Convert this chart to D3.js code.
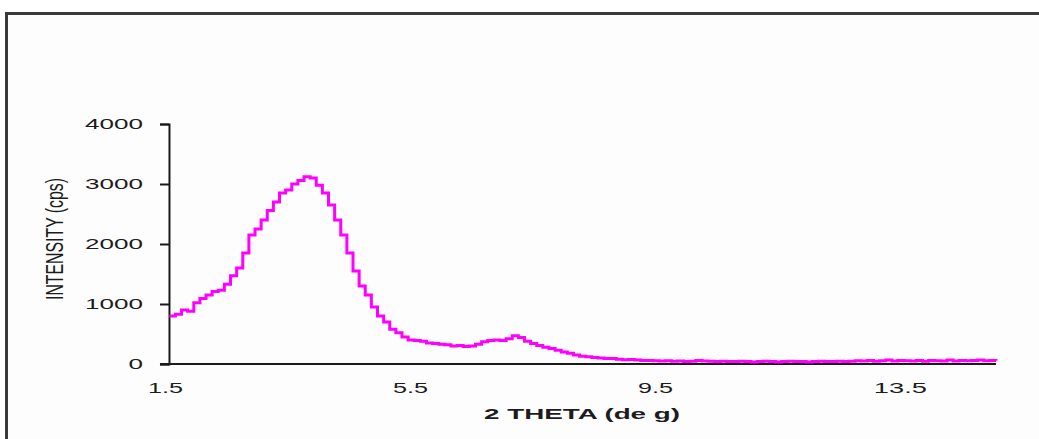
<!DOCTYPE html>
<html>
<head>
<meta charset="utf-8">
<script src="https://cdn.jsdelivr.net/npm/d3@7"></script>
<style>
  body { margin: 0; background: #fff; }
  svg { display: block; }
  text { font-family: Arial, "Liberation Sans", sans-serif; fill: #1c1c1c; }
</style>
</head>
<body>
<div id="chart"></div>
<script>
// 2 theta values start at 1.57 and step by 0.1 deg
const thetaStart = 1.57;
const thetaStep = 0.1;
const intensity = [
  800, 830, 900, 880, 1020, 1090, 1150, 1210, 1230, 1330,
  1470, 1600, 1850, 2150, 2250, 2400, 2560, 2700, 2850, 2900,
  3000, 3060, 3120, 3100, 2980, 2850, 2650, 2400, 2150, 1850,
  1550, 1300, 1150, 950, 800, 700, 580, 520, 450, 400,
  390, 380, 350, 340, 330, 320, 300, 310, 290, 300,
  330, 370, 390, 400, 390, 420, 470, 440, 380, 340,
  310, 280, 260, 230, 200, 180, 150, 130, 120, 110,
  100, 90, 90, 80, 70, 75, 65, 60, 60, 55,
  50, 55, 45, 50, 40, 45, 60, 50, 45, 40,
  45, 40, 40, 45, 40, 35, 40, 45, 40, 35,
  40, 45, 40, 40, 35, 40, 45, 40, 40, 45,
  40, 45, 55, 50, 60, 45, 55, 65, 50, 60,
  55, 50, 60, 45, 60, 55, 50, 65, 50, 60,
  55, 60, 65, 55, 60, 55
];
const xTicks = [1.5, 5.5, 9.5, 13.5];
const yTicks = [0, 1000, 2000, 3000, 4000];
const xTitle = '2  THETA  (de g)';
const yTitle = 'INTENSITY (cps)';

const data = intensity.map((v, i) => ({ t: thetaStart + i * thetaStep, v }));
const thetaEnd = 15.07;

const width = 1039, height = 439;
const svg = d3.select('#chart').append('svg')
  .attr('width', width).attr('height', height);

// outer frame (cut by the picture edge on the right and bottom)
svg.append('rect')
  .attr('x', 6.5).attr('y', 13.5)
  .attr('width', 1100).attr('height', 500)
  .attr('fill', '#fdfdfd')
  .attr('stroke', '#3a3a3a')
  .attr('stroke-width', 3);

const x = d3.scaleLinear().domain([1.5, thetaEnd]).range([165, 996]);
const y = d3.scaleLinear().domain([0, 4000]).range([364, 124]);

// y axis
const yAxis = svg.append('g')
  .attr('transform', 'translate(' + x(thetaStart - 0.005) + ',0)')
  .call(d3.axisLeft(y).tickValues(yTicks).tickSize(9).tickPadding(17).tickFormat(d3.format('d')));
yAxis.select('.domain').attr('stroke', '#1a1a1a').attr('stroke-width', 2);
yAxis.selectAll('.tick line').attr('stroke', '#1a1a1a').attr('stroke-width', 2);
yAxis.selectAll('.tick text')
  .style('font-size', '14px')
  .attr('fill', '#1c1c1c')
  .attr('textLength', d => String(d).length * 14.5)
  .attr('lengthAdjust', 'spacingAndGlyphs');

// x axis: line from the y axis to the end, labels without tick marks
svg.append('line')
  .attr('x1', x(thetaStart - 0.005) - 9).attr('x2', x(thetaEnd))
  .attr('y1', y(0)).attr('y2', y(0))
  .attr('stroke', '#1a1a1a').attr('stroke-width', 2);

const xAxis = svg.append('g')
  .attr('transform', 'translate(0,' + y(0) + ')')
  .call(d3.axisBottom(x).tickValues(xTicks).tickSize(0).tickPadding(18).tickFormat(d3.format('.1f')));
xAxis.select('.domain').remove();
xAxis.selectAll('.tick text')
  .style('font-size', '15px')
  .attr('fill', '#1c1c1c')
  .attr('textLength', d => String(d).replace('.', '').length * 18 - 1)
  .attr('lengthAdjust', 'spacingAndGlyphs');

// titles
svg.append('text')
  .attr('x', 582).attr('y', 419)
  .attr('text-anchor', 'middle')
  .style('font-size', '14px')
  .style('font-weight', 'bold')
  .attr('textLength', 196)
  .attr('lengthAdjust', 'spacingAndGlyphs')
  .text(xTitle);

svg.append('text')
  .attr('transform', 'translate(63,239) rotate(-90) scale(1,1.75)')
  .attr('text-anchor', 'middle')
  .style('font-size', '14px')
  .attr('textLength', 122)
  .attr('lengthAdjust', 'spacingAndGlyphs')
  .text(yTitle);

// diffraction trace
const line = d3.line()
  .x(d => x(d.t))
  .y(d => y(d.v))
  .curve(d3.curveStepAfter);

svg.append('path')
  .datum(data)
  .attr('fill', 'none')
  .attr('stroke', '#ff00ff')
  .attr('stroke-width', 3)
  .attr('d', line);
</script>
</body>
</html>
